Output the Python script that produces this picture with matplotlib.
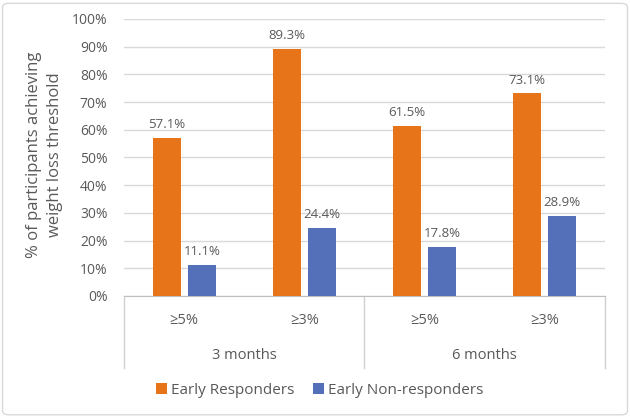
import matplotlib
import matplotlib.pyplot as plt
import matplotlib.patches as mpatches
import numpy as np

matplotlib.use('Agg')

# data
thresholds = ['≥5%', '≥3%', '≥5%', '≥3%']
periods = ['3 months', '6 months']
responders = [57.1, 89.3, 61.5, 73.1]
non_responders = [11.1, 24.4, 17.8, 28.9]
series_names = ['Early Responders', 'Early Non-responders']
y_ticks = [0, 10, 20, 30, 40, 50, 60, 70, 80, 90, 100]

ORANGE = '#E8741A'
BLUE = '#5470B8'
TXT = '#595959'
GRID = '#D9D9D9'

plt.rcParams['font.family'] = ['Open Sans', 'DejaVu Sans']

fig = plt.figure(figsize=(6.3, 4.19), dpi=100)
ax = fig.add_axes([0.197, 0.2936, 0.763, 0.6611])

x = np.arange(len(thresholds))
w = 0.235
off = 0.146
b1 = ax.bar(x - off, responders, w, color=ORANGE, label=series_names[0], zorder=3)
b2 = ax.bar(x + off, non_responders, w, color=BLUE, label=series_names[1], zorder=3)

for bars, vals in ((b1, responders), (b2, non_responders)):
    for rect, v in zip(bars, vals):
        ax.annotate(f'{v:.1f}%', (rect.get_x() + rect.get_width() / 2, v),
                    xytext=(0, 5), textcoords='offset points',
                    ha='center', va='bottom', fontsize=9.5, color=TXT)

ax.set_xlim(-0.5, len(thresholds) - 0.5)
ax.set_ylim(0, 100)
ax.set_yticks(y_ticks)
ax.set_yticklabels([f'{t}%' for t in y_ticks], fontsize=10, color=TXT)
ax.tick_params(axis='y', length=0, pad=12)
ax.set_xticks([])
ax.grid(axis='y', color=GRID, linewidth=1, zorder=0)
for s in ['top', 'right', 'left']:
    ax.spines[s].set_visible(False)
ax.spines['bottom'].set_color('#BFBFBF')

# two level category axis
trans = ax.get_xaxis_transform()
for i, lab in enumerate(thresholds):
    ax.text(i, -0.09, lab, transform=trans, ha='center', va='center',
            fontsize=10.5, color=TXT)
for j, lab in enumerate(periods):
    ax.text(2 * j + 0.5, -0.215, lab, transform=trans, ha='center', va='center',
            fontsize=10.5, color=TXT)
for xv in [-0.5, 1.5, 3.5]:
    ax.plot([xv, xv], [0, -0.26], transform=trans, color='#D0D0D0',
            linewidth=1, clip_on=False)

fig.text(0.071, 0.63, '% of participants achieving\nweight loss threshold',
         rotation=90, ha='center', va='center', fontsize=12, color=TXT,
         linespacing=1.45)

leg = fig.legend(handles=[b1, b2], loc='center', bbox_to_anchor=(0.508, 0.069),
                 ncol=2, frameon=False, fontsize=11, handlelength=0.7,
                 handleheight=0.7, handletextpad=0.3, columnspacing=1.2)
for t in leg.get_texts():
    t.set_color(TXT)

fig.patches.append(mpatches.FancyBboxPatch((0.004, 0.01), 0.992, 0.982,
                                           boxstyle='round,pad=0,rounding_size=0.01',
                                           transform=fig.transFigure, fill=False,
                                           edgecolor='#D9D9D9', linewidth=1))

fig.savefig('out.png', dpi=100)
